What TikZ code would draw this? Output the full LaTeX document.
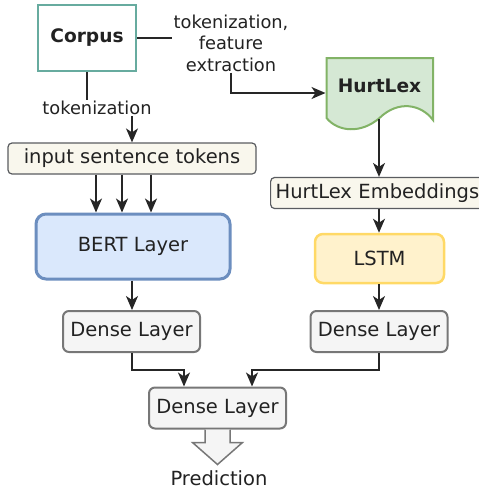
\documentclass[tikz,border=0pt]{standalone}
\usepackage{fontspec}
\setmainfont{DejaVu Sans}
\usetikzlibrary{arrows.meta}

\definecolor{txt}{HTML}{222222}
\definecolor{tealline}{HTML}{67AB9F}
\definecolor{greenfill}{HTML}{D5E8D4}
\definecolor{greenline}{HTML}{82B366}
\definecolor{notefill}{HTML}{F9F7ED}
\definecolor{noteline}{HTML}{5A5C60}
\definecolor{bluefill}{HTML}{DAE8FC}
\definecolor{blueline}{HTML}{6C8EBF}
\definecolor{yellowfill}{HTML}{FFF2CC}
\definecolor{yellowline}{HTML}{FFD966}
\definecolor{grayfill}{HTML}{F5F5F5}
\definecolor{grayline}{HTML}{777777}

\tikzset{
  base/.style={inner sep=0pt, align=center, text=txt,
    font=\fontsize{19.5}{23}\selectfont},
  corpusbox/.style={base, draw=tealline, line width=2.5pt, fill=white,
    minimum width=98pt, minimum height=66pt, font=\fontsize{18.6}{22}\selectfont\bfseries},
  notebox/.style={base, draw=noteline, line width=1.2pt, fill=notefill,
    rounded corners=4pt, minimum height=31pt},
  bertbox/.style={base, draw=blueline, line width=3pt, fill=bluefill,
    rounded corners=10pt, minimum width=194pt, minimum height=65pt},
  lstmbox/.style={base, draw=yellowline, line width=2.5pt, fill=yellowfill,
    rounded corners=8pt, minimum width=129pt, minimum height=49pt},
  densebox/.style={base, draw=grayline, line width=2pt, fill=grayfill,
    rounded corners=6pt, minimum width=137pt, minimum height=41pt},
  edgelabel/.style={inner sep=1pt, align=center, text=txt, fill=white,
    font=\fontsize{17.8}{21.5}\selectfont},
  arr/.style={draw=black!85, line width=1.6pt,
    -{Stealth[length=14pt, width=12pt, inset=4pt]}},
  plain/.style={draw=black!85, line width=1.6pt},
}

\begin{document}
\begin{tikzpicture}[x=1pt, y=-1pt]
\useasboundingbox (0,0) rectangle (479,490);
\clip (0,0) rectangle (479,490);

% HurtLex document shape with wavy lower edge
\path[fill=greenfill, draw=greenline, line width=2pt]
  (326.5,58) -- (433,58) -- (433,120)
  .. controls (421,104) and (398,100) .. (379.5,118)
  .. controls (361,134) and (338,132) .. (326.5,118) -- cycle;

% nodes
\node[corpusbox] (corpus) at (87,38) {Corpus};
\node[base, font=\fontsize{18.6}{22}\selectfont\bfseries] (hl) at (379.5,86) {HurtLex};
\coordinate (hlw) at (325.5,93);
\node[notebox, minimum width=248pt] (inp) at (132,158.5) {input sentence tokens};
\node[notebox, anchor=west, minimum width=240pt, inner xsep=5pt, text width=230pt, align=left]
  (emb) at (270,193) {HurtLex Embeddings};
\node[bertbox] (bert) at (133,246.5) {BERT Layer};
\node[lstmbox] (lstm) at (379.5,258.5) {LSTM};
\node[densebox] (dl) at (131.5,331.5) {Dense Layer};
\node[densebox] (dr) at (379,331.5) {Dense Layer};
\node[densebox] (db) at (217.5,408) {Dense Layer};
\node[base] (pred) at (219,478) {Prediction};

\node[edgelabel] (lab1) at (231,43) {tokenization,\\feature\\extraction};
\node[edgelabel] (lab2) at (97,108) {tokenization};

% helper coordinates
\coordinate (x96) at (96,0);
\coordinate (x122) at (122,0);
\coordinate (x151) at (151,0);
\coordinate (x132) at (132,0);
\coordinate (x184) at (184,0);
\coordinate (x252) at (252,0);
\coordinate (ymerge) at (0,370);
\coordinate (hlb) at (379,119);

% Corpus to HurtLex
\draw[plain] (corpus.east) -- (corpus.east -| lab1.west);
\draw[arr] (lab1.south) |- (hlw);
% Corpus to input tokens
\draw[plain] (corpus.south) -- (corpus.south |- lab2.north);
\draw[arr] (x132 |- lab2.south) -- (x132 |- inp.north);
% tokens into BERT
\draw[arr] (x96 |- inp.south) -- (x96 |- bert.north);
\draw[arr] (x122 |- inp.south) -- (x122 |- bert.north);
\draw[arr] (x151 |- inp.south) -- (x151 |- bert.north);
% HurtLex branch
\draw[arr] (hlb) -- (hlb |- emb.north);
\draw[arr] (hlb |- emb.south) -- (hlb |- lstm.north);
\draw[arr] (hlb |- lstm.south) -- (hlb |- dr.north);
% BERT branch
\draw[arr] (x132 |- bert.south) -- (x132 |- dl.north);
% merge
\draw[arr] (x132 |- dl.south) |- (x184 |- ymerge) -- (x184 |- db.north);
\draw[arr] (hlb |- dr.south) |- (x252 |- ymerge) -- (x252 |- db.north);

% output arrow
\path[fill=grayfill, draw=grayline, line width=1.5pt]
  ([xshift=-12.5pt]db.south) -- ++(0,13) -- ++(-12.5,0) -- ++(25,22)
  -- ++(25,-22) -- ++(-12.5,0) -- ([xshift=12.5pt]db.south);
\end{tikzpicture}
\end{document}
